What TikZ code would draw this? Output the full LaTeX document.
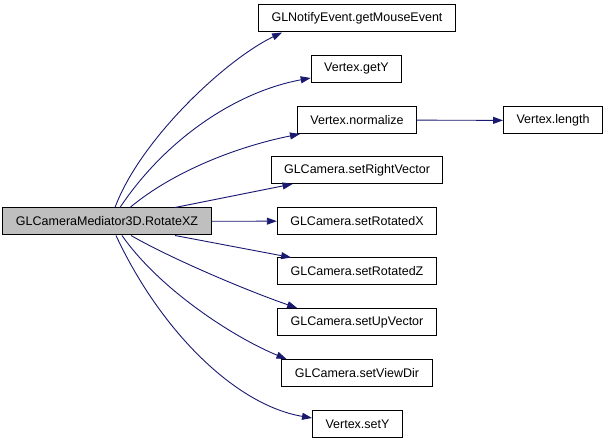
\documentclass[tikz,border=0pt]{standalone}
\usepackage{fontspec}
\setmainfont{Liberation Sans}
\usepackage{tikz}
\usetikzlibrary{arrows.meta}

\definecolor{edgeblue}{RGB}{25,25,112}

\begin{document}
\begin{tikzpicture}[x=1pt, y=-1pt,
  font=\fontsize{12.5}{15}\selectfont,
  >={Triangle[length=10pt, width=7pt]},
  s/.style={draw, line width=1pt, inner xsep=13pt, inner ysep=0pt, minimum height=27pt},
  r/.style={s, fill=black!25},
  e/.style={->, draw=edgeblue, line width=0.9pt}]
\useasboundingbox (0,0) rectangle (608,443);
\node[r] (rxz) at (107,221.5) {GLCameraMediator3D.RotateXZ};
\node[s] (gme) at (357,18.5) {GLNotifyEvent.getMouseEvent};
\node[s] (gety) at (356.5,69) {Vertex.getY};
\node[s] (nrm) at (357,120) {Vertex.normalize};
\node[s] (len) at (553,120.5) {Vertex.length};
\node[s] (srv) at (357,170) {GLCamera.setRightVector};
\node[s] (srx) at (357,221) {GLCamera.setRotatedX};
\node[s] (srz) at (357,271.5) {GLCamera.setRotatedZ};
\node[s] (suv) at (357,322) {GLCamera.setUpVector};
\node[s] (svd) at (357,373) {GLCamera.setViewDir};
\node[s] (sety) at (357.5,424) {Vertex.setY};
% calls above
\draw[e] ([xshift=8pt]rxz.north) .. controls (140,140) and (225,60) .. ([xshift=24pt]gme.south west);
\draw[e] ([xshift=13pt]rxz.north) .. controls (165,140) and (235,92) .. ([yshift=-9pt]gety.west);
\draw[e] ([xshift=23pt]rxz.north) .. controls (175,170) and (240,146) .. ([xshift=3pt]nrm.south west);
\draw[e] ([xshift=68pt]rxz.north) -- ([xshift=22pt]srv.south west);
\draw[e] (rxz) -- (srx);
% calls below
\draw[e] ([xshift=68pt]rxz.south) -- ([xshift=14pt]srz.north west);
\draw[e] ([xshift=24pt]rxz.south) .. controls (170,258) and (245,290) .. ([xshift=20pt]suv.north west);
\draw[e] ([xshift=15pt]rxz.south) .. controls (160,290) and (235,338) .. ([xshift=5pt]svd.north west);
\draw[e] ([xshift=9pt]rxz.south) .. controls (160,330) and (235,405) .. ([yshift=6pt]sety.west);
\draw[e] (nrm) -- (len);
\end{tikzpicture}
\end{document}
